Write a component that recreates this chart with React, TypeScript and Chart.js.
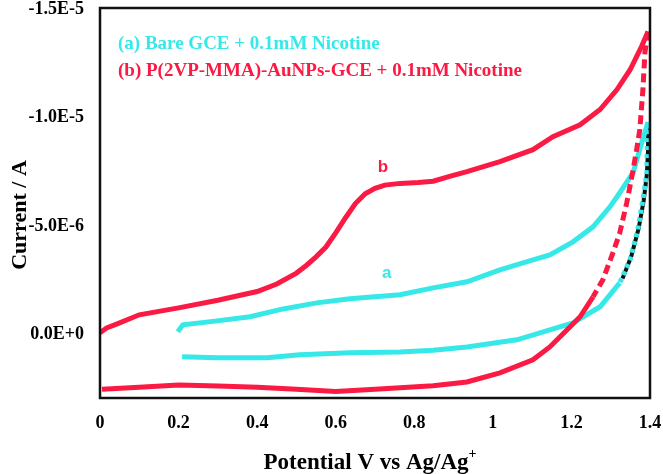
import React, { useEffect, useRef } from "react";
import { Chart, registerables } from "chart.js";

Chart.register(...registerables);

// Potential (V) and current (µA; plotted axis is reversed, anodic up)
const redFwdV = [0, 0.017, 0.05, 0.1, 0.2, 0.3, 0.4, 0.45, 0.5, 0.525, 0.55, 0.575, 0.6, 0.625, 0.65, 0.675, 0.7, 0.725, 0.764, 0.81, 0.848, 0.89, 0.934, 1.018, 1.102, 1.153, 1.222, 1.273, 1.316, 1.349, 1.379, 1.395];
const redFwdI = [0, -0.23, -0.46, -0.83, -1.15, -1.5, -1.9, -2.25, -2.75, -3.1, -3.5, -3.95, -4.6, -5.3, -5.95, -6.4, -6.65, -6.8, -6.88, -6.92, -6.98, -7.2, -7.42, -7.88, -8.43, -9.03, -9.58, -10.28, -11.2, -12.1, -13.2, -13.87];

const redRevV = [1.395, 1.387, 1.382, 1.374, 1.366, 1.357, 1.341, 1.323, 1.306, 1.28, 1.255, 1.222, 1.189, 1.145, 1.102, 1.018, 0.934, 0.848, 0.764, 0.7, 0.6, 0.5, 0.4, 0.3, 0.2, 0.1, 0.005];
const redRevI = [-13.87, -12.9, -11.2, -9.35, -8.43, -7.5, -6.0, -4.6, -3.7, -2.44, -1.66, -0.74, -0.14, 0.65, 1.24, 1.84, 2.26, 2.44, 2.53, 2.6, 2.7, 2.6, 2.5, 2.45, 2.4, 2.5, 2.6];
const redRevDashedSegments = 10;

const cyanFwdV = [0.198, 0.211, 0.298, 0.382, 0.466, 0.552, 0.636, 0.764, 0.848, 0.934, 1.018, 1.102, 1.145, 1.204, 1.255, 1.298, 1.323, 1.357, 1.379, 1.395];
const cyanFwdI = [-0.05, -0.37, -0.55, -0.74, -1.1, -1.38, -1.57, -1.75, -2.07, -2.35, -2.9, -3.36, -3.59, -4.19, -4.88, -5.8, -6.45, -7.37, -8.76, -9.7];

const cyanRevV = [1.395, 1.393, 1.392, 1.382, 1.369, 1.349, 1.323, 1.273, 1.204, 1.145, 1.061, 0.934, 0.848, 0.764, 0.636, 0.509, 0.425, 0.298, 0.209];
const cyanRevI = [-9.7, -8.5, -7.37, -6.13, -4.75, -3.36, -2.3, -1.2, -0.46, -0.14, 0.32, 0.65, 0.8, 0.88, 0.92, 1.01, 1.15, 1.15, 1.1];
const cyanRevDashedSegments = 6;

const blackV = [1.397, 1.395, 1.392, 1.384, 1.371, 1.352, 1.33];
const blackI = [-9.6, -8.4, -7.3, -6.1, -4.8, -3.5, -2.5];

const yTicks = [-15, -10, -5, 0];
const xTicks = [0, 0.2, 0.4, 0.6, 0.8, 1, 1.2, 1.4];

const legendA = "(a) Bare GCE + 0.1mM Nicotine";
const legendB = "(b) P(2VP-MMA)-AuNPs-GCE + 0.1mM Nicotine";
const xTitle = "Potential V vs Ag/Ag";
const xTitleSup = "+";
const yTitle = "Current / A";

const RED = "#FA1A43";
const CYAN = "#36E8E8";
const SERIF = '"Liberation Serif", "Times New Roman", serif';
const SANS = '"Liberation Sans", Arial, sans-serif';

const pts = (v: number[], i: number[]) => v.map((x, k) => ({ x, y: i[k] }));

const decorPlugin = {
  id: "decor",
  afterDatasetsDraw(chart: any) {
    const { ctx, chartArea: a } = chart;
    ctx.save();
    ctx.strokeStyle = "#111";
    ctx.lineWidth = 2.5;
    ctx.beginPath();
    ctx.moveTo(a.left, a.top + 1);
    ctx.lineTo(a.right, a.top + 1);
    ctx.lineTo(a.right, a.bottom);
    ctx.lineTo(a.left, a.bottom);
    ctx.closePath();
    ctx.stroke();
    ctx.restore();
  },
  afterDraw(chart: any) {
    const { ctx, chartArea: a, scales } = chart;
    ctx.save();
    // legend texts
    ctx.textAlign = "left";
    ctx.textBaseline = "middle";
    ctx.font = `bold 19px ${SERIF}`;
    ctx.fillStyle = CYAN;
    ctx.fillText(legendA, 118, 44);
    ctx.fillStyle = RED;
    ctx.fillText(legendB, 118, 71);
    // curve labels
    ctx.textAlign = "center";
    ctx.font = `bold 17px ${SANS}`;
    ctx.fillStyle = CYAN;
    ctx.fillText("a", scales.x.getPixelForValue(0.73), scales.y.getPixelForValue(-2.75));
    ctx.fillStyle = RED;
    ctx.fillText("b", scales.x.getPixelForValue(0.72), scales.y.getPixelForValue(-7.6));
    // x title
    ctx.fillStyle = "#000";
    ctx.font = `bold 23px ${SERIF}`;
    const w1 = ctx.measureText(xTitle).width;
    ctx.font = `bold 14px ${SERIF}`;
    const w2 = ctx.measureText(xTitleSup).width;
    const cx = (a.left + a.right) / 2 - 5;
    const sx = cx - (w1 + w2) / 2;
    ctx.textAlign = "left";
    ctx.textBaseline = "alphabetic";
    ctx.font = `bold 23px ${SERIF}`;
    ctx.fillText(xTitle, sx, 469);
    ctx.font = `bold 14px ${SERIF}`;
    ctx.fillText(xTitleSup, sx + w1, 458);
    // y title
    ctx.translate(20, 215);
    ctx.rotate(-Math.PI / 2);
    ctx.textAlign = "center";
    ctx.textBaseline = "middle";
    ctx.font = `bold 22px ${SERIF}`;
    ctx.fillText(yTitle, 0, 0);
    ctx.restore();
  },
};

export default function App() {
  const ref = useRef<HTMLCanvasElement | null>(null);
  useEffect(() => {
    document.body.style.margin = "0";
    const canvas = ref.current;
    if (!canvas) return;
    const chart = new Chart(canvas, {
      type: "scatter",
      data: {
        datasets: [
          {
            data: pts(redFwdV, redFwdI),
            showLine: true,
            borderColor: RED,
            backgroundColor: RED,
            borderWidth: 5,
            pointRadius: 0,
            order: 0,
          },
          {
            data: pts(redRevV, redRevI),
            showLine: true,
            borderColor: RED,
            backgroundColor: RED,
            borderWidth: 5,
            pointRadius: 0,
            order: 0,
            segment: {
              borderDash: (c: any) => (c.p0DataIndex < redRevDashedSegments ? [9, 5] : undefined),
            },
          },
          {
            data: pts(cyanFwdV, cyanFwdI),
            showLine: true,
            borderColor: CYAN,
            backgroundColor: CYAN,
            borderWidth: 5,
            pointRadius: 0,
            order: 1,
          },
          {
            data: pts(cyanRevV, cyanRevI),
            showLine: true,
            borderColor: CYAN,
            backgroundColor: CYAN,
            borderWidth: 5,
            pointRadius: 0,
            order: 1,
            segment: {
              borderDash: (c: any) => (c.p0DataIndex < cyanRevDashedSegments ? [4, 4] : undefined),
            },
          },
          {
            data: pts(blackV, blackI),
            showLine: true,
            borderColor: "#111",
            backgroundColor: "#111",
            borderWidth: 4,
            pointRadius: 0,
            order: 2,
          },
        ],
      },
      options: {
        animation: false,
        responsive: false,
        layout: { padding: { left: 0, right: 13, top: 7, bottom: 0 } },
        plugins: { legend: { display: false }, tooltip: { enabled: false } },
        scales: {
          x: {
            type: "linear",
            min: 0,
            max: 1.4,
            grid: { display: false, drawTicks: false },
            border: { display: false },
            afterFit: (s: any) => {
              s.height = 76;
              s.paddingLeft = 0;
              s.paddingRight = 0;
            },
            afterBuildTicks: (s: any) => {
              s.ticks = xTicks.map((v) => ({ value: v }));
            },
            ticks: {
              padding: 15,
              color: "#000",
              font: { family: SERIF, size: 18, weight: "bold" },
              callback: (v: any) => String(Number(Number(v).toFixed(1))),
            },
          },
          y: {
            type: "linear",
            reverse: true,
            min: -15,
            max: 3,
            grid: { display: false, drawTicks: false },
            border: { display: false },
            afterFit: (s: any) => {
              s.width = 100;
              s.paddingTop = 0;
              s.paddingBottom = 0;
            },
            afterBuildTicks: (s: any) => {
              s.ticks = yTicks.map((v) => ({ value: v }));
            },
            ticks: {
              padding: 16,
              labelOffset: 2,
              color: "#000",
              font: { family: SERIF, size: 18, weight: "bold" },
              callback: (v: any) => (Number(v) * 1e-6).toExponential(1).toUpperCase(),
            },
          },
        },
      },
      plugins: [decorPlugin],
    } as any);
    return () => chart.destroy();
  }, []);
  return <canvas ref={ref} width={663} height={474} style={{ display: "block" }} />;
}
